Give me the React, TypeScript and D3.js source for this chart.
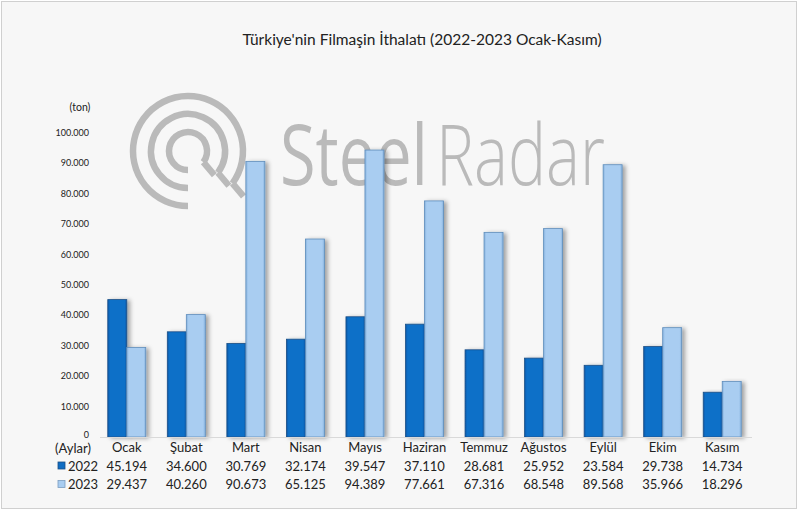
import React, { useEffect, useRef } from 'react';
import * as d3 from 'd3';

const months = ['Ocak', 'Şubat', 'Mart', 'Nisan', 'Mayıs', 'Haziran', 'Temmuz', 'Ağustos', 'Eylül', 'Ekim', 'Kasım'];
const years = ['2022', '2023'];
const values2022 = [45194, 34600, 30769, 32174, 39547, 37110, 28681, 25952, 23584, 29738, 14734];
const values2023 = [29437, 40260, 90673, 65125, 94389, 77661, 67316, 68548, 89568, 35966, 18296];
const yTicks = [0, 10000, 20000, 30000, 40000, 50000, 60000, 70000, 80000, 90000, 100000];

const fontFamily = 'Lato, "Open Sans", sans-serif';

const fmt = (v: number) => (v === 0 ? '0' : d3.format(',')(v).replace(/,/g, '.'));

const App: React.FC = () => {
  const svgRef = useRef<SVGSVGElement>(null);

  useEffect(() => {
    if (!svgRef.current) return;
    const width = 800;
    const height = 514;
    const svg = d3.select(svgRef.current);
    svg.selectAll('*').remove();
    svg.attr('width', width).attr('height', height);

    const defs = svg.append('defs');
    const grad = (id: string, edge: string, mid: string) => {
      const g = defs.append('linearGradient').attr('id', id).attr('x1', '0%').attr('x2', '100%');
      g.append('stop').attr('offset', '0%').attr('stop-color', edge);
      g.append('stop').attr('offset', '12%').attr('stop-color', mid);
      g.append('stop').attr('offset', '88%').attr('stop-color', mid);
      g.append('stop').attr('offset', '100%').attr('stop-color', edge);
    };
    grad('g2022', '#0a58a8', '#0f70c8');
    grad('g2023', '#86b2de', '#a9cdf1');
    const f = defs.append('filter').attr('id', 'shadow').attr('x', '-30%').attr('width', '180%').attr('y', '-5%').attr('height', '115%');
    f.append('feDropShadow').attr('dx', 3).attr('dy', 1).attr('stdDeviation', 2).attr('flood-color', '#000').attr('flood-opacity', 0.35);

    // background + frame
    svg.append('rect').attr('width', width).attr('height', height).attr('fill', '#fff');
    svg.append('rect').attr('x', 1.5).attr('y', 1.5).attr('width', 795).attr('height', 507)
      .attr('fill', '#f7f7f7').attr('stroke', '#d0d0d0').attr('stroke-width', 1);

    // watermark logo
    const wm = svg.append('g').attr('fill', 'none').attr('stroke', '#bababa').attr('stroke-width', 6.5);
    const cx = 188, cy = 151;
    [55, 37, 19].forEach(r => {
      const a0 = d3.arc().innerRadius(r).outerRadius(r).startAngle(Math.PI * 1.0).endAngle(Math.PI * 2.7);
      wm.append('path').attr('transform', `translate(${cx},${cy})`).attr('d', a0({} as any) as string);
      const ang = Math.PI * 2.7 - Math.PI / 2;
      const x0 = cx + r * Math.cos(ang), y0 = cy + r * Math.sin(ang);
      wm.append('line').attr('x1', x0).attr('y1', y0).attr('x2', x0 + 11).attr('y2', y0 + 13);
    });
    // watermark words, squeezed horizontally to the reference width
    const word = (txt: string, x0: number, w: number, weight: number) => {
      const g = svg.append('g');
      const t = g.append('text').attr('x', 0).attr('y', 0).attr('fill', '#bababa')
        .attr('font-family', '"Open Sans", sans-serif').attr('font-size', 84).attr('font-weight', weight).text(txt);
      const len = (t.node() as SVGTextElement).getComputedTextLength() || w;
      g.attr('transform', `translate(${x0},185) scale(${w / len},1)`);
    };
    word('Steel', 280, 148, 400);
    word('Radar', 436, 169, 300);

    // scales
    const x = d3.scaleBand<string>().domain(months).range([97, 752]).padding(0);
    const x1 = d3.scaleBand<string>().domain(years).range([0, 38]);
    const y = d3.scaleLinear().domain([0, 100000]).range([437, 133]);
    const offset = (x.bandwidth() - 38) / 2;

    // title
    svg.append('text').attr('x', 422).attr('y', 45).attr('text-anchor', 'middle')
      .attr('font-family', fontFamily).attr('font-size', 15.5).attr('fill', '#222')
      .text("Türkiye'nin Filmaşin İthalatı (2022-2023 Ocak-Kasım)");

    // y axis labels
    svg.append('text').attr('x', 80).attr('y', 111).attr('text-anchor', 'middle')
      .attr('font-family', fontFamily).attr('font-size', 10.5).attr('fill', '#222').text('(ton)');
    svg.append('g').selectAll('text').data(yTicks).join('text')
      .attr('x', 89).attr('y', d => y(d) + (d === 0 ? 1 : 3)).attr('text-anchor', 'end')
      .attr('font-family', fontFamily).attr('font-size', 9).attr('fill', '#222')
      .text(d => fmt(d));

    // bars
    const series = [values2022, values2023];
    const groups = svg.append('g').selectAll('g').data(months).join('g')
      .attr('transform', d => `translate(${(x(d) as number) + offset},0)`);
    groups.selectAll('rect').data(m => years.map((yr, k) => ({ yr, v: series[k][months.indexOf(m)] })))
      .join('rect')
      .attr('x', d => x1(d.yr) as number)
      .attr('y', d => y(d.v))
      .attr('width', x1.bandwidth())
      .attr('height', d => y(0) - y(d.v))
      .attr('fill', d => (d.yr === '2022' ? 'url(#g2022)' : 'url(#g2023)'))
      .attr('stroke', d => (d.yr === '2022' ? '#1b4f86' : '#5f8dbb'))
      .attr('stroke-width', 0.8)
      .attr('filter', 'url(#shadow)');

    // axis line
    svg.append('line').attr('x1', 100).attr('x2', 752).attr('y1', 437.5).attr('y2', 437.5)
      .attr('stroke', '#d9d9d9').attr('stroke-width', 1);

    // data table
    const tf = 13;
    svg.append('text').attr('x', 91).attr('y', 453).attr('text-anchor', 'end')
      .attr('font-family', fontFamily).attr('font-size', tf).attr('fill', '#222').text('(Aylar)');
    svg.append('g').selectAll('text').data(months).join('text')
      .attr('x', d => (x(d) as number) + x.bandwidth() / 2).attr('y', 452).attr('text-anchor', 'middle')
      .attr('font-family', fontFamily).attr('font-size', tf).attr('fill', '#222').text(d => d);
    const rowY = [470.5, 489];
    const legendFill = ['#0f6cc2', '#a9cdf1'];
    const legendStroke = ['#1b4f86', '#7a9cc0'];
    years.forEach((yr, k) => {
      svg.append('rect').attr('x', 58).attr('y', rowY[k] - 8.5).attr('width', 7).attr('height', 7)
        .attr('fill', legendFill[k]).attr('stroke', legendStroke[k]).attr('stroke-width', 0.8);
      svg.append('text').attr('x', 68).attr('y', rowY[k]).attr('text-anchor', 'start')
        .attr('font-family', fontFamily).attr('font-size', tf).attr('fill', '#222').text(yr);
      svg.append('g').selectAll('text').data(months).join('text')
        .attr('x', d => (x(d) as number) + x.bandwidth() / 2).attr('y', rowY[k]).attr('text-anchor', 'middle')
        .attr('font-family', fontFamily).attr('font-size', tf).attr('fill', '#222')
        .text((d, i) => fmt(series[k][i]));
    });
  }, []);

  return <svg ref={svgRef} style={{ display: 'block', position: 'absolute', left: 0, top: 0 }} />;
};

export default App;
